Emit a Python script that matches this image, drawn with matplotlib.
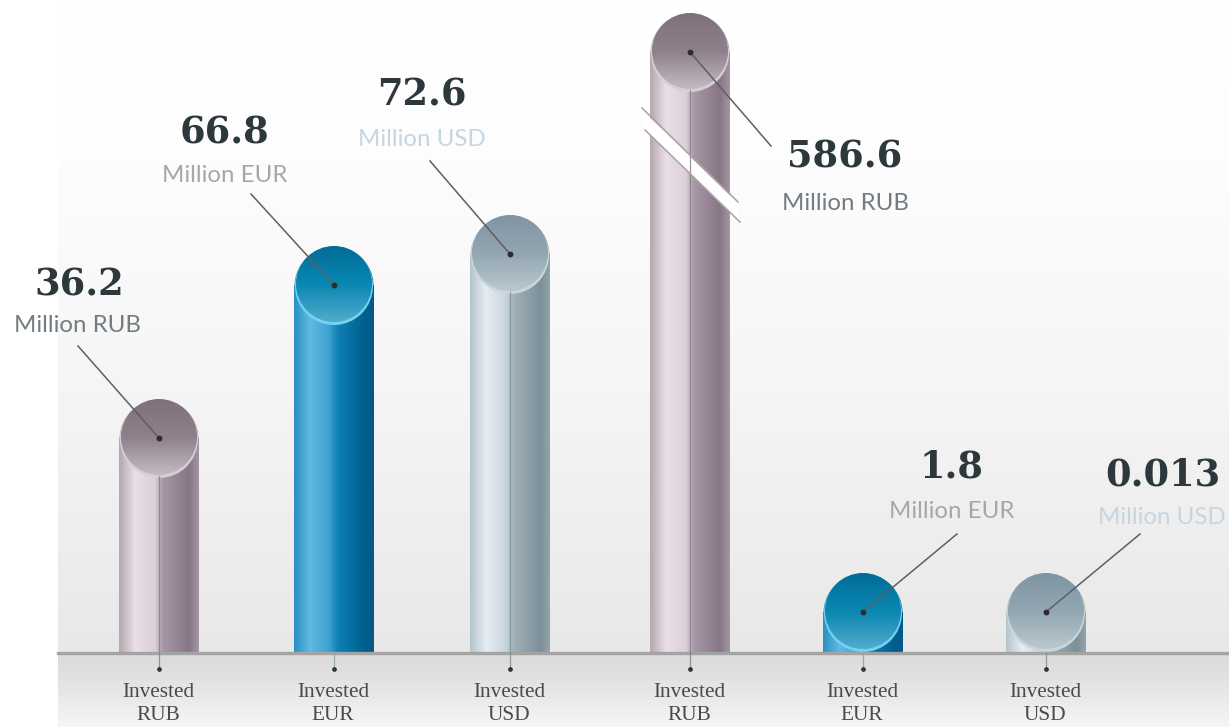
import numpy as np
import matplotlib
matplotlib.use("Agg")
import matplotlib.pyplot as plt
from matplotlib.colors import LinearSegmentedColormap as LSC
from matplotlib.patches import Circle, Polygon

# ---- data ----
categories = ["Invested\nRUB", "Invested\nEUR", "Invested\nUSD", "Invested\nRUB", "Invested\nEUR", "Invested\nUSD"]
value_labels = ["36.2", "66.8", "72.6", "586.6", "1.8", "0.013"]
unit_labels = ["Million RUB", "Million EUR", "Million USD", "Million RUB", "Million EUR", "Million USD"]
families = ["RUB", "EUR", "USD", "RUB", "EUR", "USD"]
# drawn column heights (the chart is not to scale; fourth column has an axis break)
drawn_heights = [215, 368, 399, 601, 41, 41]

# ---- layout (pixels) ----
W, H, BASE = 1229, 727, 653
centers = [159, 334, 510, 690, 863, 1046]
value_xy = [(79, 285), (225, 133), (422, 95), (845, 157), (952, 468), (1163, 476)]
unit_xy = [(78, 326), (225, 176), (422, 139), (845, 203), (952, 511), (1162, 517)]
leader_from = [(78, 346), (251, 194), (430, 161), (771, 146), (957, 534), (1140, 534)]
line_through_body = [True, False, True, True, False, False]
BAR_W, CAP_R = 80, 38

styles = {
    "RUB": dict(body=["#b5a6b0", "#e9dfe5", "#dcd0d9", "#a898a7", "#877785", "#a597a2"],
                cap=["#7f707b", "#8f818c", "#c6bcc3"], rim="#d8cfd5", unit="#737c80"),
    "EUR": dict(body=["#2a8fc4", "#62b9e2", "#3aa0d0", "#0f7fb5", "#00608f", "#04588a"],
                cap=["#006c98", "#0a88b2", "#55abce"], rim="#72d3f0", unit="#a3a9ab"),
    "USD": dict(body=["#b3c3cd", "#e6eef3", "#c8d5dc", "#a0b1b9", "#7d8f98", "#92a3ab"],
                cap=["#7f95a3", "#93a6b2", "#bcc9cf"], rim="#c9d6dc", unit="#c6d6e1"),
}
body_stops = [0, 0.2, 0.45, 0.55, 0.88, 1]
cap_stops = [0, 0.5, 1]
VALUE_COLOR = "#2c383b"

fig = plt.figure(figsize=(W / 100, H / 100), dpi=100, facecolor="white")
ax = fig.add_axes([0, 0, 1, 1])
ax.set_axis_off()
ax.set_xlim(0, W)
ax.set_ylim(BASE - H, BASE)   # y = 0 is the baseline, one unit per pixel


def py(p):
    return BASE - p


def gradient(stops, colors, extent, vertical, z, clip=None):
    cmap = LSC.from_list("g", list(zip(stops, colors)))
    g = np.linspace(0, 1, 256)
    arr = g[:, None] if vertical else g[None, :]
    im = ax.imshow(arr, cmap=cmap, extent=extent, aspect="auto", origin="upper",
                   vmin=0, vmax=1, zorder=z, interpolation="bilinear")
    if clip is not None:
        im.set_clip_path(clip)
    return im


# backdrop and floor
gradient([0, 0.25, 0.6, 1], ["#ffffff", "#fdfdfd", "#f5f5f5", "#e8e8e8"], (58, W, py(BASE), py(0)), True, 0)
gradient([0, 0.5, 1], ["#dadada", "#e6e6e6", "#f6f6f6"], (58, W, py(H), py(BASE)), True, 0)

# columns
bars = ax.bar(centers, drawn_heights, width=BAR_W, bottom=0, color="none", linewidth=0, zorder=2)
for x, h, rect, fam in zip(centers, drawn_heights, bars, families):
    st = styles[fam]
    ext = (x - BAR_W / 2, x + BAR_W / 2, 0, h + 45)
    gradient(body_stops, st["body"], ext, False, 2, clip=rect)
    shoulder = Circle((x, h - 1), BAR_W / 2 - 0.5, transform=ax.transData, fc="none", lw=0)
    ax.add_patch(shoulder)
    gradient(body_stops, st["body"], ext, False, 2, clip=shoulder)
    # rim and lid
    ax.add_patch(Circle((x, h - 1), CAP_R + 1, fc=st["rim"], ec="none", zorder=3))
    lid = Circle((x, h + 1), CAP_R, fc="none", lw=0, zorder=4)
    ax.add_patch(lid)
    gradient(cap_stops, st["cap"], (x - CAP_R, x + CAP_R, h - CAP_R, h + CAP_R + 1), True, 4, clip=lid)

# axis break on the fourth column
ax.add_patch(Polygon([(642, py(110)), (738, py(203)), (740, py(222)), (645, py(130))],
                     fc="white", ec="none", zorder=5))
ax.plot([642, 738], [py(108), py(202)], color="#a9a2a7", lw=1.1, zorder=6)
ax.plot([645, 740], [py(130), py(222)], color="#a9a2a7", lw=1.1, zorder=6)

# baseline
ax.axhline(0, xmin=58 / W, color="#a3a3a3", lw=2.4, zorder=5)

# centre lines, leaders, dots
for i, (x, h, fam) in enumerate(zip(centers, drawn_heights, families)):
    line_col = {"RUB": "#8b7f89", "EUR": "#8aa0aa", "USD": "#7d8f98"}[fam]
    top = h - CAP_R if line_through_body[i] else 0
    ax.plot([x, x], [top, py(669)], color=line_col, lw=0.9, alpha=0.85, zorder=5)
    lx, ly = leader_from[i]
    ax.plot([lx, x], [py(ly), h], color="#5f5f63", lw=1.1, zorder=7)
    ax.plot([x], [h], "o", ms=3.2, color="#2f2a30", zorder=8)
    ax.plot([x], [py(669)], "o", ms=2.4, color="#333333", zorder=8)

    vx, vy = value_xy[i]
    ax.text(vx, py(vy), value_labels[i], ha="center", va="center", fontsize=26.5,
            fontweight="bold", family="DejaVu Serif", color=VALUE_COLOR, zorder=9)
    ux, uy = unit_xy[i]
    ax.text(ux, py(uy), unit_labels[i], ha="center", va="center", fontsize=17.3,
            family="Lato", color=styles[fam]["unit"], zorder=9)
    ax.text(x - 1, py(704), categories[i], ha="center", va="center", fontsize=15.3,
            family="Liberation Serif", color="#4a4a4a", linespacing=1.3, zorder=9)

fig.savefig("out.png", dpi=100, facecolor="white")
